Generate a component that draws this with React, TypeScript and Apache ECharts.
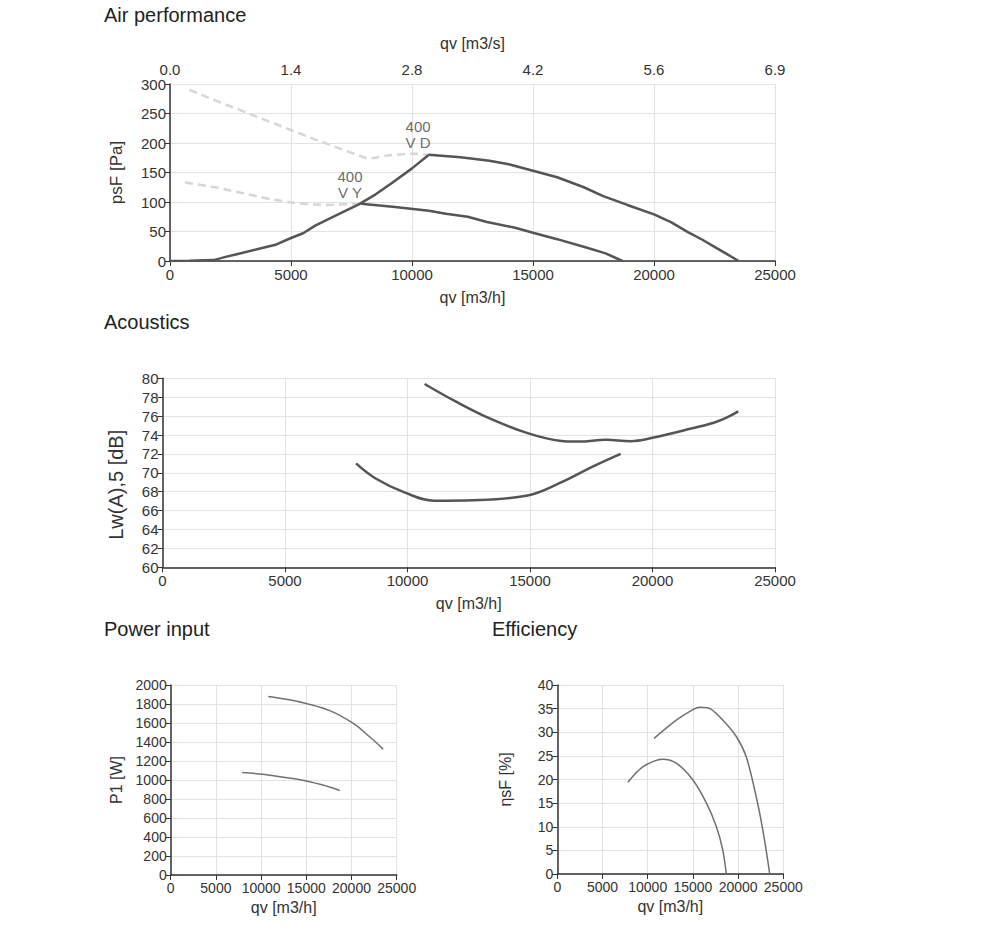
import React, { useEffect, useRef } from "react";
import * as echarts from "echarts";

// ---- Air performance data (qv [m3/h], psF [Pa]) ----
const systemCurve = [[0, 0], [800, 0.3], [1800, 1.5], [2300, 7], [2800, 12], [3600, 20], [4400, 28], [5000, 39], [5500, 47], [6000, 60], [6800, 76], [7800, 96], [8500, 113], [9200, 133], [10000, 157], [10700, 180]];
const vdCurve = [[10700, 180], [12000, 176], [13200, 170], [14000, 164], [15000, 153], [16000, 142], [17100, 125], [17900, 110], [18900, 95], [20000, 79], [20700, 66], [21400, 49], [22000, 36], [22500, 24], [23000, 12], [23500, 0]];
const vyCurve = [[7900, 97], [9200, 92], [10700, 85], [11400, 80], [12300, 75], [13100, 66], [14300, 56], [15000, 48], [16000, 37], [17200, 23], [18000, 13], [18700, 0]];
const vdDashed = [[800, 290], [2000, 270], [3000, 254], [4000, 238], [5000, 222], [6000, 206], [7000, 191], [8200, 173], [9000, 179], [10000, 182], [10700, 180]];
const vyDashed = [[620, 133], [2000, 124], [3000, 115], [4000, 106], [5000, 99], [5800, 96], [6500, 95], [7200, 96], [7900, 97]];
const curveLabels = [
  { value: [10250, 214], text: "400\nV D" },
  { value: [7440, 130], text: "400\nV Y" },
];

// ---- Acoustics (Lw(A),5 [dB]) ----
const acVD = [[10700, 79.4], [12000, 77.5], [13400, 75.7], [14900, 74.2], [16200, 73.4], [17000, 73.3], [18100, 73.5], [19100, 73.35], [20000, 73.7], [21300, 74.5], [22500, 75.3], [23000, 75.8], [23500, 76.5]];
const acVY = [[7900, 71.0], [8700, 69.4], [9900, 67.9], [11100, 67.05], [12700, 67.1], [14900, 67.6], [16200, 68.9], [17600, 70.7], [18700, 72.0]];

// ---- Power input (P1 [W]) ----
const pVD = [[10800, 1880], [12800, 1850], [15000, 1805], [17600, 1730], [20200, 1595], [22000, 1455], [23500, 1325]];
const pVY = [[7900, 1080], [10200, 1060], [12100, 1035], [15000, 990], [17300, 935], [18700, 890]];

// ---- Efficiency (ηsF [%]) ----
const eVD = [[10700, 28.7], [13200, 32.6], [15000, 34.8], [15800, 35.3], [16900, 35.0], [18300, 32.6], [19800, 29.1], [20900, 24.8], [22000, 16.4], [22800, 8.6], [23500, 0]];
const eVY = [[7800, 19.4], [9500, 22.7], [11700, 24.3], [13200, 23.4], [15000, 19.9], [16500, 15.0], [17600, 10], [18300, 5.1], [18700, 0]];

const titles = [
  { text: "Air performance", left: 104, top: 5 },
  { text: "Acoustics", left: 104, top: 312 },
  { text: "Power input", left: 104, top: 619 },
  { text: "Efficiency", left: 492, top: 619 },
];

const FONT = "Liberation Sans, Arial, sans-serif";
const TXT = "#333";
const GRIDC = "#e2e2e2";
const plain = (v: number) => String(v);

function xAxisBase(gridIndex: number, fs: number, gap: number) {
  return {
    type: "value",
    gridIndex,
    min: 0,
    max: 25000,
    interval: 5000,
    name: "qv [m3/h]",
    nameLocation: "middle",
    nameGap: gap,
    nameTextStyle: { fontSize: 16, color: TXT, fontFamily: FONT },
    axisLine: { show: true, lineStyle: { color: "#333", width: 1.5 } },
    axisTick: { show: true, length: 5, lineStyle: { color: "#333" } },
    axisLabel: { fontSize: fs, color: TXT, fontFamily: FONT, margin: 6, showMinLabel: true, showMaxLabel: true, formatter: plain },
    splitLine: { show: true, lineStyle: { color: GRIDC } },
  };
}

function yAxisBase(gridIndex: number, name: string, min: number, max: number, interval: number, fs: number, gap: number, nfs: number, shift = 0) {
  return {
    type: "value",
    gridIndex,
    min,
    max,
    interval,
    name,
    nameLocation: "middle",
    nameGap: gap,
    nameTextStyle: { fontSize: nfs, color: TXT, fontFamily: FONT, padding: [0, shift, 0, 0] },
    axisLine: { show: true, lineStyle: { color: "#333", width: 1.5 } },
    axisTick: { show: true, length: 5, lineStyle: { color: "#333" } },
    axisLabel: { fontSize: fs, color: TXT, fontFamily: FONT, margin: 4, showMinLabel: true, showMaxLabel: true, formatter: plain },
    splitLine: { show: true, lineStyle: { color: GRIDC } },
  };
}

function line(data: number[][], xi: number, yi: number, width: number, color: string, smooth: any, dashed = false) {
  return {
    type: "line",
    xAxisIndex: xi,
    yAxisIndex: yi,
    data,
    showSymbol: false,
    symbol: "none",
    smooth,
    lineStyle: { width, color, type: dashed ? [8, 5] : "solid" },
    silent: true,
  };
}

export default function App() {
  const ref = useRef<HTMLDivElement>(null);
  useEffect(() => {
    if (!ref.current) return;
    const chart = echarts.init(ref.current, null, { renderer: "svg" });
    const option: any = {
      animation: false,
      backgroundColor: "#fff",
      textStyle: { fontFamily: FONT },
      title: titles.map((t) => ({
        text: t.text,
        left: t.left,
        top: t.top,
        padding: 0,
        textStyle: { fontSize: 20, fontWeight: "normal", color: "#222", fontFamily: FONT },
      })),
      grid: [
        { left: 170, width: 605, top: 84, height: 177, containLabel: false, outerBoundsMode: "none" },
        { left: 162.5, width: 612.5, top: 378.3, height: 189, containLabel: false, outerBoundsMode: "none" },
        { left: 170.7, width: 226, top: 685, height: 190, containLabel: false, outerBoundsMode: "none" },
        { left: 557.3, width: 226, top: 685, height: 189, containLabel: false, outerBoundsMode: "none" },
      ],
      xAxis: [
        xAxisBase(0, 15, 28),
        {
          type: "value",
          gridIndex: 0,
          position: "top",
          min: 0,
          max: 25000,
          interval: 5000,
          name: "qv [m3/s]",
          nameLocation: "middle",
          nameGap: 33,
          nameTextStyle: { fontSize: 16, color: TXT, fontFamily: FONT },
          axisLine: { show: false },
          axisTick: { show: false },
          splitLine: { show: false },
          axisLabel: {
            fontSize: 15,
            color: TXT,
            fontFamily: FONT,
            margin: 7,
            showMinLabel: true,
            showMaxLabel: true,
            formatter: (v: number) => (v / 3600).toFixed(1),
          },
        },
        xAxisBase(1, 15, 28),
        xAxisBase(2, 14, 24),
        xAxisBase(3, 14, 24),
      ],
      yAxis: [
        yAxisBase(0, "psF [Pa]", 0, 300, 50, 15, 45, 17),
        yAxisBase(1, "Lw(A),5 [dB]", 60, 80, 2, 15, 37, 20, 24),
        yAxisBase(2, "P1 [W]", 0, 2000, 200, 14, 46, 16),
        yAxisBase(3, "ηsF [%]", 0, 40, 5, 14, 44, 16),
      ],
      series: [
        line(vdDashed, 0, 0, 2.5, "#d6d6d6", false, true),
        line(vyDashed, 0, 0, 2.5, "#d6d6d6", false, true),
        line(systemCurve, 0, 0, 2.5, "#555", false),
        line(vdCurve, 0, 0, 2.5, "#555", false),
        line(vyCurve, 0, 0, 2.5, "#555", false),
        {
          type: "scatter",
          xAxisIndex: 0,
          yAxisIndex: 0,
          symbolSize: 1,
          itemStyle: { color: "rgba(0,0,0,0)" },
          silent: true,
          data: curveLabels.map((l) => ({ value: l.value, label: { formatter: l.text } })),
          label: {
            show: true,
            position: "inside",
            fontSize: 15,
            lineHeight: 16,
            color: "#444",
            fontFamily: FONT,
            align: "center",
          },
        },
        line(acVD, 2, 1, 2.5, "#555", 0.4),
        line(acVY, 2, 1, 2.5, "#555", 0.4),
        line(pVD, 3, 2, 1.5, "#707070", 0.4),
        line(pVY, 3, 2, 1.5, "#707070", 0.4),
        line(eVD, 4, 3, 1.5, "#707070", 0.3),
        line(eVY, 4, 3, 1.5, "#707070", 0.3),
      ],
    };
    chart.setOption(option);
    return () => chart.dispose();
  }, []);
  return <div ref={ref} style={{ position: "absolute", left: 0, top: 0, width: 1000, height: 931 }} />;
}
